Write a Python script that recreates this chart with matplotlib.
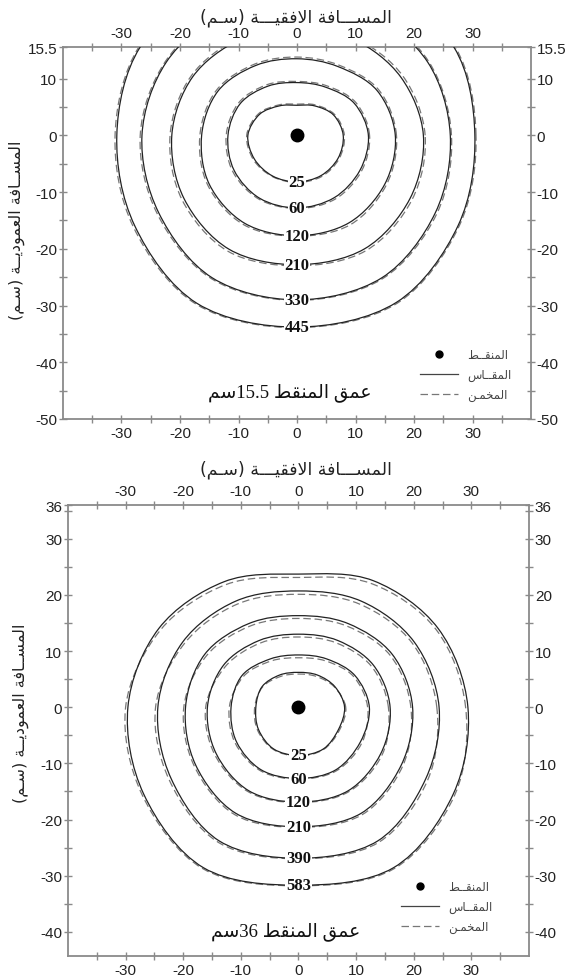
import numpy as np
import matplotlib
matplotlib.use('Agg')
import matplotlib.pyplot as plt
from matplotlib.path import Path
from matplotlib.patches import PathPatch
from matplotlib.lines import Line2D

# angles (deg) at which the front radius was read, counter-clockwise from +x
angles = [0, 30, 60, 90, 120, 150, 180, 210, 240, 270, 300, 330]

# emitter depth 15.5 cm
times_a = [25, 60, 120, 210, 330, 445]
meas_a = [
    [7.9, 7.2, 6.0, 5.3, 6.0, 7.4, 8.4, 8.4, 8.3, 8.2, 8.2, 8.1],
    [12.2, 11.3, 9.8, 9.3, 10.0, 11.2, 11.8, 12.4, 12.8, 12.8, 12.7, 12.4],
    [16.8, 15.8, 14.0, 13.5, 14.2, 15.6, 16.3, 17.3, 17.9, 17.7, 17.8, 17.3],
    [21.6, 20.5, 19.5, 19.0, 19.5, 20.6, 21.4, 22.3, 23.2, 22.8, 23.1, 22.3],
    [26.2, 25.8, 25.0, 25.0, 25.0, 25.8, 26.5, 27.3, 29.0, 29.0, 29.0, 27.3],
    [30.4, 31.0, 30.0, 30.0, 30.0, 31.0, 30.8, 32.0, 34.2, 33.8, 34.0, 31.8],
]
est_a = [
    [8.1, 7.4, 6.2, 5.5, 6.2, 7.6, 8.6, 8.6, 8.4, 8.3, 8.4, 8.3],
    [12.4, 11.6, 10.1, 9.5, 10.3, 11.5, 12.1, 12.7, 13.0, 12.9, 13.0, 12.7],
    [17.0, 16.1, 14.3, 13.8, 14.5, 15.9, 16.6, 17.6, 18.2, 17.8, 18.2, 17.6],
    [21.9, 20.9, 19.8, 19.3, 19.8, 20.9, 21.7, 22.7, 23.6, 23.0, 23.5, 22.7],
    [26.4, 26.0, 25.3, 25.3, 25.3, 26.0, 26.8, 27.6, 29.2, 29.1, 29.2, 27.6],
    [30.6, 31.2, 30.3, 30.3, 30.3, 31.2, 31.1, 32.3, 34.4, 33.9, 34.2, 32.0],
]

# emitter depth 36 cm
times_b = [25, 60, 120, 210, 390, 583]
meas_b = [
    [8.0, 7.3, 6.6, 6.2, 6.6, 7.3, 7.4, 8.0, 8.6, 8.6, 8.6, 8.0],
    [12.3, 11.3, 9.9, 9.3, 9.9, 11.3, 11.7, 12.4, 12.9, 12.7, 12.9, 12.4],
    [15.9, 15.0, 13.7, 13.0, 13.7, 15.0, 15.8, 16.5, 17.2, 16.9, 17.2, 16.5],
    [19.8, 18.8, 17.2, 16.3, 17.2, 18.8, 19.6, 20.6, 21.8, 21.3, 21.8, 20.6],
    [24.4, 23.2, 21.8, 20.7, 21.8, 23.2, 24.4, 25.5, 27.5, 26.9, 27.5, 25.5],
    [29.4, 28.0, 26.0, 23.7, 25.8, 28.0, 29.6, 31.0, 33.0, 31.7, 33.0, 31.0],
]
est_b = [
    [8.2, 7.2, 6.3, 5.9, 6.3, 7.2, 7.6, 8.2, 8.7, 8.7, 8.7, 8.2],
    [12.0, 11.0, 9.5, 8.8, 9.5, 11.0, 12.0, 12.7, 13.1, 12.8, 13.1, 12.7],
    [15.6, 14.6, 13.2, 12.5, 13.2, 14.6, 16.1, 16.8, 17.4, 17.0, 17.4, 16.8],
    [19.5, 18.4, 16.7, 15.8, 16.7, 18.4, 19.9, 20.9, 22.1, 21.4, 22.1, 20.9],
    [24.0, 22.8, 21.2, 20.1, 21.2, 22.8, 24.8, 25.9, 27.8, 27.0, 27.8, 25.9],
    [29.0, 27.6, 25.4, 23.1, 25.2, 27.6, 30.0, 31.3, 33.2, 31.8, 33.2, 31.3],
]

# -------- minimal Arabic shaping (presentation forms) --------
FORMS = {  # isolated, final, initial, medial
    'ا': ('\uFE8D', '\uFE8E', None, None),
    'د': ('\uFEA9', '\uFEAA', None, None),
    'و': ('\uFEED', '\uFEEE', None, None),
    'ة': ('\uFE93', '\uFE94', None, None),
    'ل': ('\uFEDD', '\uFEDE', '\uFEDF', '\uFEE0'),
    'م': ('\uFEE1', '\uFEE2', '\uFEE3', '\uFEE4'),
    'س': ('\uFEB1', '\uFEB2', '\uFEB3', '\uFEB4'),
    'ف': ('\uFED1', '\uFED2', '\uFED3', '\uFED4'),
    'ق': ('\uFED5', '\uFED6', '\uFED7', '\uFED8'),
    'ي': ('\uFEF1', '\uFEF2', '\uFEF3', '\uFEF4'),
    'ع': ('\uFEC9', '\uFECA', '\uFECB', '\uFECC'),
    'ن': ('\uFEE5', '\uFEE6', '\uFEE7', '\uFEE8'),
    'ط': ('\uFEC1', '\uFEC2', '\uFEC3', '\uFEC4'),
    'خ': ('\uFEA5', '\uFEA6', '\uFEA7', '\uFEA8'),
    'ـ': ('ـ', 'ـ', 'ـ', 'ـ'),
}


def ar(text):
    out = []
    i = 0
    n = len(text)
    while i < n:
        c = text[i]
        if c not in FORMS:
            out.append({'(': ')', ')': '('}.get(c, c))
            i += 1
            continue
        prev = text[i - 1] if i > 0 else ''
        jp = prev in FORMS and FORMS[prev][2] is not None
        if c == 'ل' and i + 1 < n and text[i + 1] == 'ا':
            out.append('\uFEFC' if jp else '\uFEFB')
            i += 2
            continue
        nxt = text[i + 1] if i + 1 < n else ''
        jn = FORMS[c][2] is not None and nxt in FORMS
        iso, fin, ini, med = FORMS[c]
        if jp and jn:
            g = med
        elif jp:
            g = fin
        elif jn:
            g = ini
        else:
            g = iso
        out.append(g)
        i += 1
    return ''.join(out[::-1])


def loop_path(rs):
    th = np.radians(angles)
    pts = np.column_stack([np.array(rs) * np.cos(th), np.array(rs) * np.sin(th)])
    n = len(pts)
    verts = [pts[0]]
    codes = [Path.MOVETO]
    for i in range(n):
        p0, p1, p2, p3 = pts[i - 1], pts[i], pts[(i + 1) % n], pts[(i + 2) % n]
        verts += [p1 + (p2 - p0) / 6, p2 - (p3 - p1) / 6, p2]
        codes += [Path.CURVE4] * 3
    return Path(verts, codes)


plt.rcParams['font.family'] = ['Liberation Sans', 'DejaVu Sans']
plt.rcParams['axes.unicode_minus'] = False
AR = ['DejaVu Sans']
SERIF = ['Liberation Serif', 'DejaVu Sans']

fig = plt.figure(figsize=(5.66, 9.78), dpi=100)
ax1 = fig.add_axes([0.1113, 0.5706, 0.8269, 0.3799])
ax2 = fig.add_axes([0.1201, 0.0215, 0.8145, 0.4611])

panels = [
    (ax1, times_a, meas_a, est_a, 15.5, -50, [15.5, 10, 0, -10, -20, -30, -40, -50],
     np.arange(-45, 15, 5), '15.5', -1.2, -45.2, 0.74),
    (ax2, times_b, meas_b, est_b, 36, -44.3, [36, 30, 20, 10, 0, -10, -20, -30, -40],
     np.arange(-40, 36, 5), '36', -2.2, -39.7, 0.70),
]

for ax, times, meas, est, ytop, ybot, yt, ymin, depth, tx, ty, legy in panels:
    for t, rm, re in zip(times, meas, est):
        ax.add_patch(PathPatch(loop_path(re), fill=False, ec='#777777', lw=0.9,
                               ls=(0, (6, 3)), zorder=2))
        ax.add_patch(PathPatch(loop_path(rm), fill=False, ec='#222222', lw=0.9, zorder=3))
        ax.text(0, -rm[9], str(t), ha='center', va='center', fontsize=12,
                fontweight='bold', family=SERIF, color='#111111', zorder=5,
                bbox=dict(boxstyle='square,pad=0.05', fc='white', ec='none'))
    ax.plot(0, 0, 'o', ms=9, color='black', zorder=6)

    ax.set_xlim(-40, 40)
    ax.set_ylim(ybot, ytop)
    ax.set_xticks([-30, -20, -10, 0, 10, 20, 30])
    ax.set_xticks(np.arange(-35, 40, 5), minor=True)
    ax.set_yticks(yt)
    ax.set_yticklabels([('%g' % v) for v in yt])
    ax.set_yticks(ymin, minor=True)
    ax.tick_params(which='both', direction='inout', length=6, width=1, color='#8a8a8a',
                   top=True, right=True, labeltop=True, labelright=True,
                   labelsize=11, labelcolor='#222222')
    ax.tick_params(axis='x', pad=2)
    ax.tick_params(axis='y', pad=1.2)
    for s in ax.spines.values():
        s.set_color('#8a8a8a')
        s.set_linewidth(1.3)

    ax.text(tx, ty, ar('سم') + depth + ' ' + ar('عمق المنقط'), ha='center', va='center',
            fontsize=13.5, family=SERIF, color='#111111')

    handles = [
        Line2D([], [], ls='none', marker='o', ms=5, color='black'),
        Line2D([], [], color='#444444', lw=0.9),
        Line2D([], [], color='#777777', lw=0.9, ls=(0, (6, 3))),
    ]
    leg = ax.legend(handles, [ar('المنقــط'), ar('المقــاس'), ar('المخمـن')],
                    loc='center left', bbox_to_anchor=(legy, 0.12 if ax is ax1 else 0.11),
                    frameon=False, handlelength=3.2, handletextpad=0.8,
                    labelspacing=0.6, prop={'family': AR, 'size': 8.5})
    for txt in leg.get_texts():
        txt.set_color('#444444')

xl = ar('المســـافة الافقيـــة (سـم)')
yl = ar('المســافة العموديــة (سـم)')
fig.text(0.522, 0.9816, xl, ha='center', va='center', fontsize=12.5, family=AR, color='#222222')
fig.text(0.522, 0.5194, xl, ha='center', va='center', fontsize=12.5, family=AR, color='#222222')
fig.text(0.030, 0.765, yl, ha='center', va='center', rotation=90, fontsize=11.5,
         family=AR, color='#222222')
fig.text(0.036, 0.271, yl, ha='center', va='center', rotation=90, fontsize=11.5,
         family=AR, color='#222222')

fig.savefig('out.png', dpi=100)
